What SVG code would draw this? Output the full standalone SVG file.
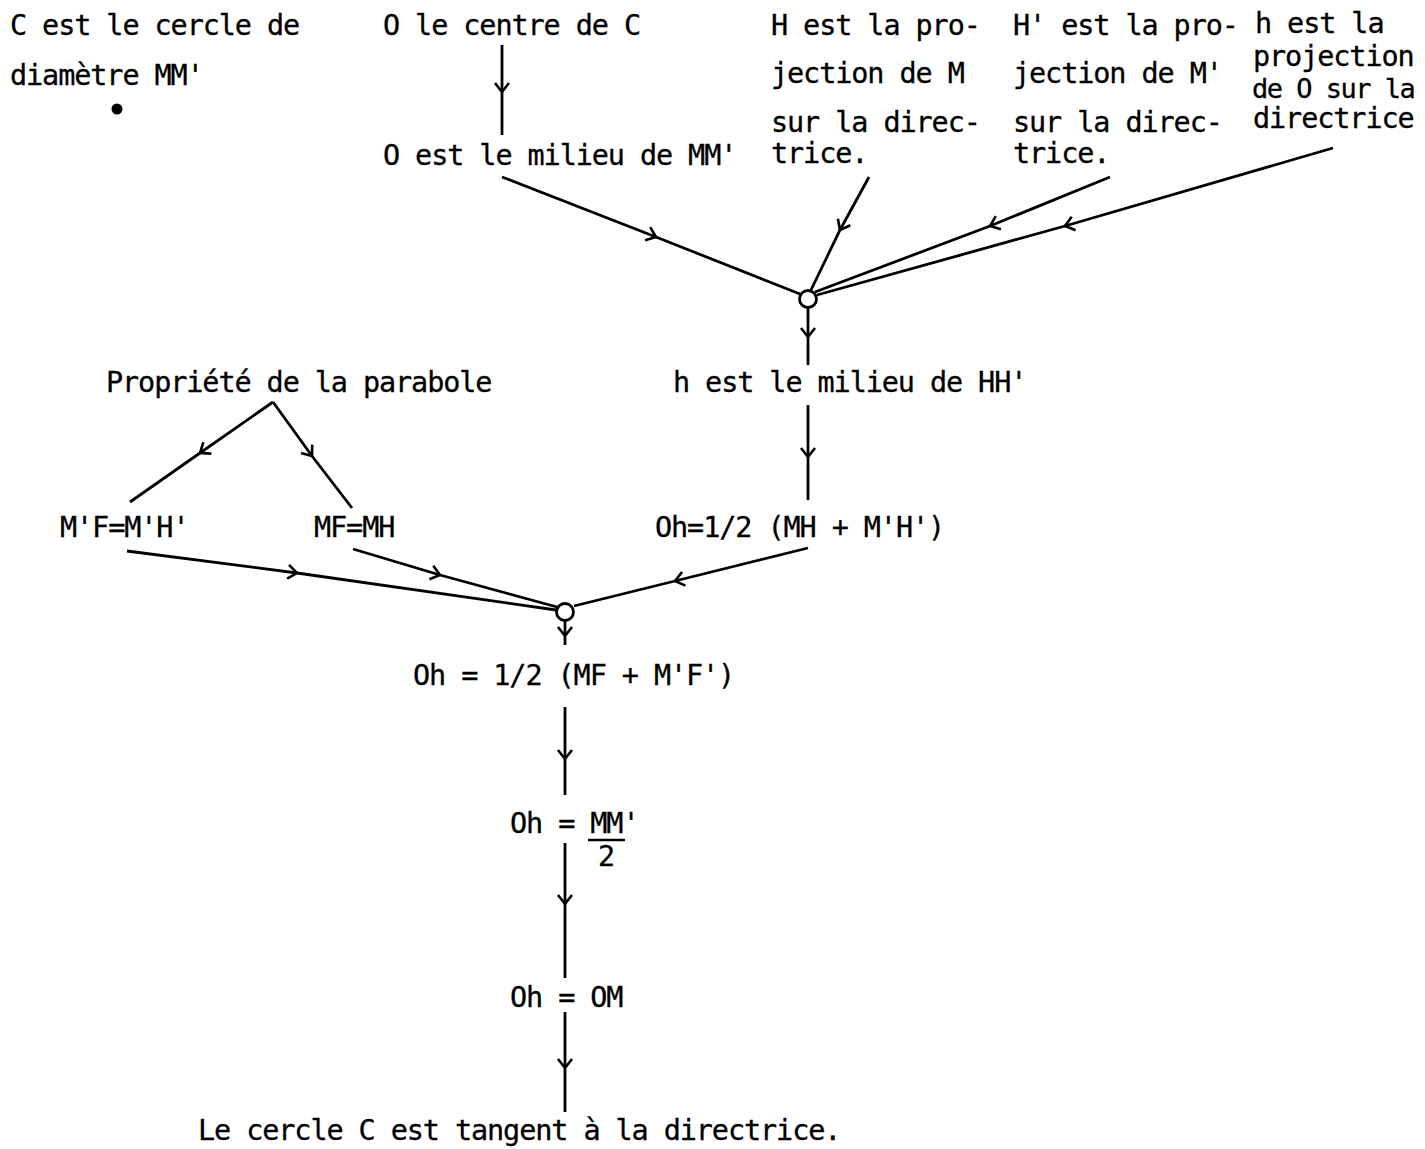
<svg xmlns="http://www.w3.org/2000/svg" width="1425" height="1149" viewBox="0 0 1425 1149">
<defs>
<style>
text{font-family:"DejaVu Sans Mono","Liberation Mono",monospace;font-size:28.5px;letter-spacing:-1.1px;fill:#000;stroke:#000;stroke-width:0.3}
.c{fill:none;stroke:#000;stroke-width:2.8;marker-mid:url(#chev)}
.j{fill:#fff;stroke:#000;stroke-width:2.8}
</style>
<marker id="chev" markerUnits="userSpaceOnUse" markerWidth="24" markerHeight="24" refX="0" refY="0" viewBox="-12 -12 24 24" orient="auto" overflow="visible">
<path d="M-9,-7 L0,0 L-9,7" fill="none" stroke="#000" stroke-width="2.6"/>
</marker>
</defs>
<rect width="1425" height="1149" fill="#fff"/>
<g id="connectors">
<path class="c" d="M502,45 L502,92 L502,135"/>
<path class="c" d="M502,177 L656,237 L800,294"/>
<path class="c" d="M869,177 L840,230 L811,290"/>
<path class="c" d="M1110,177 L990,226 L815,292"/>
<path class="c" d="M1333,148 L1065,226 L817,295"/>
<path class="c" d="M808,308 L808,337 L808,365"/>
<path class="c" d="M808,405 L808,457 L808,500"/>
<path class="c" d="M273,402 L200,453 L130,502"/>
<path class="c" d="M273,402 L312,456 L352,508"/>
<path class="c" d="M127,551 L297,573 L556,610"/>
<path class="c" d="M353,549 L440,575 L557,607"/>
<path class="c" d="M808,548 L675,581 L574,606"/>
<path class="c" d="M565,621 L565,636 L565,645"/>
<path class="c" d="M565,707 L565,759 L565,795"/>
<path class="c" d="M565,843 L565,904 L565,978"/>
<path class="c" d="M565,1012 L565,1068 L565,1112"/>
</g>
<g id="j1"><circle class="j" cx="808" cy="299" r="8.5"/></g>
<g id="j2"><circle class="j" cx="565" cy="612" r="8.5"/></g>
<g id="n-cercle">
<text x="10" y="35">C est le cercle de</text>
<text x="10" y="85">diamètre MM'</text>
<circle cx="117" cy="109" r="5.5" fill="#000"/>
</g>
<g id="n-centre"><text x="383" y="35">O le centre de C</text></g>
<g id="n-milieuO"><text x="383" y="165">O est le milieu de MM'</text></g>
<g id="n-H">
<text x="771" y="35">H est la pro-</text>
<text x="771" y="83">jection de M</text>
<text x="771" y="132">sur la direc-</text>
<text x="771" y="163">trice.</text>
</g>
<g id="n-H2">
<text x="1013" y="35">H' est la pro-</text>
<text x="1013" y="83">jection de M'</text>
<text x="1013" y="132">sur la direc-</text>
<text x="1013" y="163">trice.</text>
</g>
<g id="n-h">
<text x="1255" y="33">h est la</text>
<text x="1253" y="66">projection</text>
<text x="1252" y="98" style="font-size:27px;letter-spacing:-1.5px">de O sur la</text>
<text x="1253" y="128">directrice</text>
</g>
<g id="n-milieuh"><text x="673" y="392">h est le milieu de HH'</text></g>
<g id="n-prop"><text x="106" y="392">Propriété de la parabole</text></g>
<g id="n-mf2"><text x="60" y="537">M'F=M'H'</text></g>
<g id="n-mf"><text x="314" y="537">MF=MH</text></g>
<g id="n-oh1"><text x="655" y="537">Oh=1/2 (MH + M'H')</text></g>
<g id="n-oh2"><text x="413" y="685">Oh = 1/2 (MF + M'F')</text></g>
<g id="n-oh3">
<text x="510" y="833">Oh = MM'</text>
<line x1="588" y1="840" x2="625" y2="840" stroke="#000" stroke-width="2.4"/>
<text x="598" y="866">2</text>
</g>
<g id="n-oh4"><text x="510" y="1007">Oh = OM</text></g>
<g id="n-fin"><text x="198" y="1140">Le cercle C est tangent à la directrice.</text></g>
</svg>
